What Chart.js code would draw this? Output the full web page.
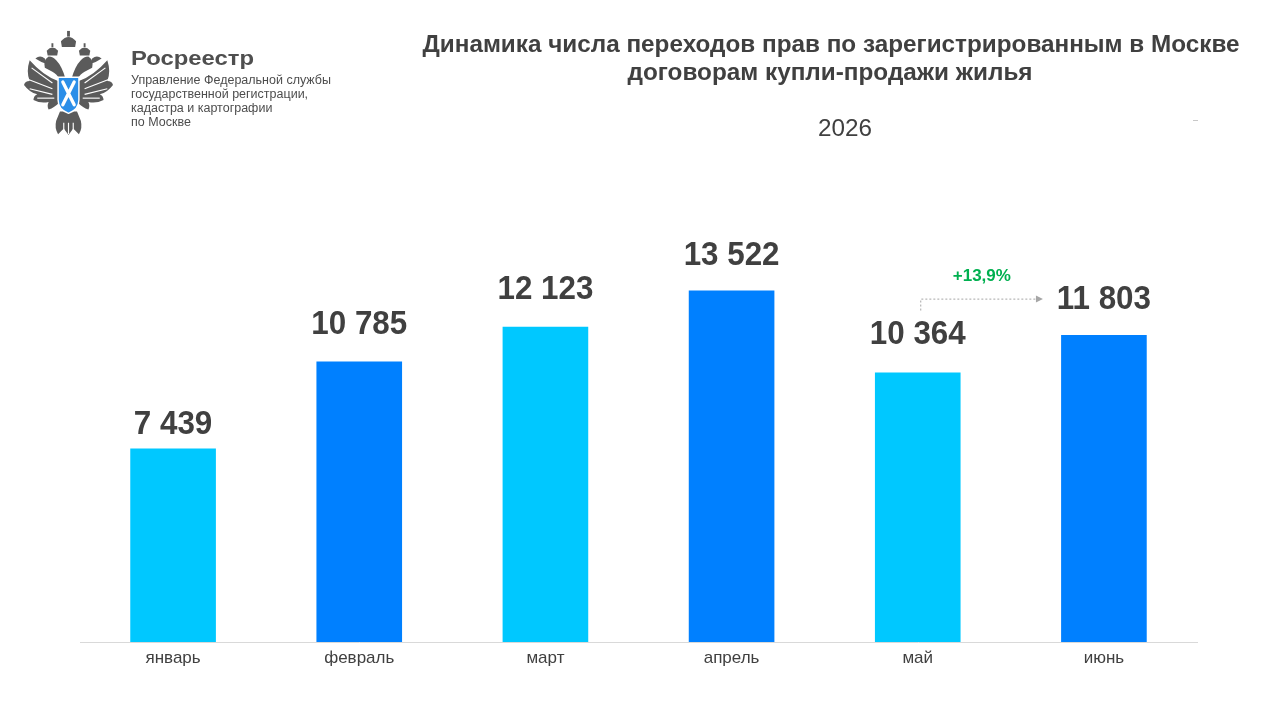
<!DOCTYPE html>
<html><head><meta charset="utf-8">
<script src="https://cdn.jsdelivr.net/npm/chart.js@4.4.1/dist/chart.umd.min.js"></script>
<style>
html,body{margin:0;padding:0;background:#fff;}
#wrap{position:relative;width:1275px;height:713px;}
#emblem{position:absolute;left:24px;top:29px;}
</style></head>
<body><div id="wrap">
<canvas id="c" width="1275" height="713"></canvas>
<svg id="emblem" width="89" height="108" viewBox="0 0 94 112">
 <g fill="#5b5b5b">
  <rect x="45.5" y="1" width="3" height="6"/>
  <path d="M39 12 Q47 3 55 12 L54 18 L40 18 Z"/>
  <path d="M24 22 Q30 15 36 22 L35 27 L25 27 Z"/>
  <path d="M58 22 Q64 15 70 22 L69 27 L59 27 Z"/>
  <rect x="29" y="14" width="2" height="4"/><rect x="63" y="14" width="2" height="4"/>
  <path d="M26 28 Q20 32 22 40 L30 44 Q34 46 38 52 L44 52 Q40 38 34 32 Q31 28 26 28 Z"/>
  <path d="M68 28 Q74 32 72 40 L64 44 Q60 46 56 52 L50 52 Q54 38 60 32 Q63 28 68 28 Z"/>
  <path d="M12 30 Q17 26 22 30 L24 36 Q18 34 12 30 Z"/>
  <path d="M82 30 Q77 26 72 30 L70 36 Q76 34 82 30 Z"/>
  <path d="M36 54 Q20 48 6 32 Q2 44 6 54 Q1 54 0 58 Q6 66 14 68 Q10 70 10 74 Q18 78 26 76 Q24 80 26 84 Q32 82 38 76 Z"/>
  <path d="M58 54 Q74 48 88 32 Q92 44 88 54 Q93 54 94 58 Q88 66 80 68 Q84 70 84 74 Q76 78 68 76 Q70 80 68 84 Q62 82 56 76 Z"/>
  <path d="M38 86 L56 86 L60 96 Q62 104 58 110 L52 104 L47 111 L42 104 L36 110 Q32 104 34 96 Z"/>
 </g>
 <g stroke="#fff" stroke-width="1.2" fill="none">
  <path d="M8 40 L30 56"/><path d="M4 52 L30 62"/><path d="M6 62 L30 68"/><path d="M14 72 L32 72"/>
  <path d="M86 40 L64 56"/><path d="M90 52 L64 62"/><path d="M88 62 L64 68"/><path d="M80 72 L62 72"/>
  <path d="M42 98 L42 108"/><path d="M47 98 L47 110"/><path d="M52 98 L52 108"/>
 </g>
 <path d="M36 50 L58 50 L58 74 Q58 84 47 88 Q36 84 36 74 Z" fill="#2b8ee8" stroke="#fff" stroke-width="1.5"/>
 <path d="M41 55 L53 79 M53 55 L41 79" stroke="#fff" stroke-width="3.5" stroke-linecap="round"/>
</svg>
</div>
<script>
const categories = ['январь','февраль','март','апрель','май','июнь'];
const values = [7439, 10785, 12123, 13522, 10364, 11803];
const valueLabels = ['7 439','10 785','12 123','13 522','10 364','11 803'];
const barColors = ['#00c8ff','#0080ff','#00c8ff','#0080ff','#00c8ff','#0080ff'];
const titleLines = ['Динамика числа переходов прав по зарегистрированным в Москве','договорам купли-продажи жилья'];
const subtitle = '2026';
const orgName = 'Росреестр';
const orgLines = ['Управление Федеральной службы','государственной регистрации,','кадастра и картографии','по Москве'];
const changeLabel = '+13,9%';

// label gap above each bar (styling)
const labelGap = [24, 37, 37, 35, 38, 35];

function drawScaled(ctx, text, x, y, sx, font, color, align){
  ctx.save();
  ctx.font = font; ctx.fillStyle = color;
  ctx.textAlign = align || 'center'; ctx.textBaseline = 'middle';
  ctx.translate(x, y); ctx.scale(sx, 1);
  ctx.fillText(text, 0, 0);
  ctx.restore();
}
function fitText(ctx, text, x, y, width, font, color, align){
  ctx.save(); ctx.font = font;
  const w = ctx.measureText(text).width; ctx.restore();
  drawScaled(ctx, text, x, y, width / w, font, color, align);
}

const overlay = {
  id: 'overlay',
  afterDatasetsDraw(chart){
    const ctx = chart.ctx;
    const xs = chart.scales.x, ys = chart.scales.y;
    const F = '"Liberation Sans", Arial, sans-serif';
    fitText(ctx, titleLines[0], 831, 45, 817, 'bold 24px ' + F, '#404040');
    fitText(ctx, titleLines[1], 830, 73, 405, 'bold 24px ' + F, '#404040');
    fitText(ctx, subtitle, 845, 129, 54, '24px ' + F, '#404040');
    ctx.save(); ctx.fillStyle = '#c8c8c8'; ctx.fillRect(1193, 120, 5, 1); ctx.restore();
    // org text
    fitText(ctx, orgName, 131, 59, 123, 'bold 21px ' + F, '#4f4f4f', 'left');
    ctx.save();
    ctx.fillStyle = '#4d4d4d'; ctx.textAlign = 'left'; ctx.textBaseline = 'middle';
    ctx.font = '12.5px ' + F;
    orgLines.forEach((t,i)=>ctx.fillText(t, 131, 81 + i*13.8));
    ctx.restore();
    // value labels
    values.forEach((v,i)=>{
      drawScaled(ctx, valueLabels[i], xs.getPixelForValue(i), ys.getPixelForValue(v) - labelGap[i], 0.95, 'bold 33px ' + F, '#404040');
    });
    // change annotation May -> June
    const x0 = xs.getPixelForValue(4) + 3;
    const x1 = xs.getPixelForValue(5) - 61;
    const yLine = ys.getPixelForValue(values[5]) - 36;
    const yStart = ys.getPixelForValue(values[4]) - 62;
    ctx.save();
    ctx.strokeStyle = '#a6a6a6'; ctx.lineWidth = 1; ctx.setLineDash([2,2]);
    ctx.beginPath(); ctx.moveTo(x0, yStart); ctx.lineTo(x0, yLine); ctx.lineTo(x1 - 6, yLine); ctx.stroke();
    ctx.setLineDash([]); ctx.fillStyle = '#a6a6a6';
    ctx.beginPath(); ctx.moveTo(x1, yLine); ctx.lineTo(x1 - 7, yLine - 3.5); ctx.lineTo(x1 - 7, yLine + 3.5); ctx.closePath(); ctx.fill();
    ctx.restore();
    drawScaled(ctx, changeLabel, (x0 + x1) / 2, yLine - 23, 1, 'bold 17px ' + F, '#00b050');
  }
};

new Chart(document.getElementById('c'), {
  type: 'bar',
  data: { labels: categories, datasets: [{ data: values, backgroundColor: barColors, borderWidth: 0, barPercentage: 0.92, categoryPercentage: 0.5 }] },
  options: {
    responsive: false, animation: false, devicePixelRatio: 1,
    layout: { padding: { top: 122, left: 80, right: 78, bottom: 0 } },
    plugins: { legend: { display: false }, tooltip: { enabled: false } },
    scales: {
      x: {
        grid: { display: false, drawTicks: false },
        border: { color: '#d9d9d9', width: 1 },
        ticks: { color: '#404040', font: { size: 17, family: '"Liberation Sans", Arial, sans-serif' }, padding: 6 },
        afterFit(s){ s.height = 71; }
      },
      y: { display: false, min: 0, max: 20000 }
    }
  },
  plugins: [overlay]
});
</script>
</body></html>
